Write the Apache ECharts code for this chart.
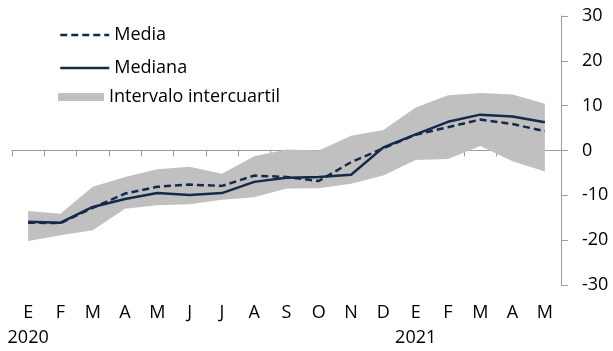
<!DOCTYPE html>
<html>
<head>
<meta charset="utf-8">
<script src="https://cdn.jsdelivr.net/npm/echarts@6/dist/echarts.min.js"></script>
<style>
  html, body { margin: 0; padding: 0; background: #ffffff; }
  #chart { width: 613px; height: 351px; }
</style>
</head>
<body>
<div id="chart"></div>
<script>
// Monthly categories, January 2020 – May 2021
const months = ['E', 'F', 'M', 'A', 'M', 'J', 'J', 'A', 'S', 'O', 'N', 'D', 'E', 'F', 'M', 'A', 'M'];
const yearLabels = { 0: '2020', 12: '2021' };

// Series values
const media   = [-16.1, -16.2, -12.8, -9.6, -8.1, -7.6, -7.9, -5.6, -5.9, -6.8, -2.6, 0.5, 3.5, 5.2, 6.9, 5.9, 4.3];
const mediana = [-15.9, -16.1, -12.6, -10.8, -9.5, -9.9, -9.5, -7.0, -6.1, -5.9, -5.4, 0.7, 3.6, 6.4, 8.0, 7.6, 6.3];
const q1      = [-20.2, -18.9, -17.8, -13.0, -12.2, -12.0, -11.0, -10.4, -8.5, -8.4, -7.4, -5.6, -2.1, -1.9, 1.0, -2.4, -4.7];
const q3      = [-13.5, -14.1, -8.1, -5.9, -4.2, -3.6, -5.2, -1.3, 0.2, 0.0, 3.3, 4.6, 9.6, 12.3, 12.8, 12.5, 10.4];

// Y axis ticks
const yMin = -30, yMax = 30, yStep = 10;

const NAVY = '#15294a';
const BAND = '#c0c0c0';
const AXIS = '#9c9c9c';
const FONT = 'Open Sans';

// Height of the interquartile band, stacked on top of the first quartile
const bandHeight = q3.map((v, i) => +(v - q1[i]).toFixed(2));

const chart = echarts.init(document.getElementById('chart'), null, { renderer: 'canvas' });

const legendText = { fontFamily: FONT, fontSize: 18, color: '#000' };
const lineLegend = {
  padding: 0, itemWidth: 49, itemHeight: 10, itemGap: 0, textStyle: legendText,
  itemStyle: { opacity: 0 },
  lineStyle: { width: 2.5 }
};

chart.setOption({
  animation: false,
  backgroundColor: '#ffffff',
  grid: { left: 12, right: 52, top: 16, bottom: 66, containLabel: false },
  legend: [
    Object.assign({ data: ['Media'], left: 59, top: 26 }, lineLegend),
    Object.assign({ data: ['Mediana'], left: 59, top: 59 }, lineLegend),
    { data: [{ name: 'Intervalo intercuartil', icon: 'rect' }], padding: 0, left: 58, top: 88, itemWidth: 46, itemHeight: 8, itemGap: 0, textStyle: legendText }
  ],
  xAxis: {
    type: 'category',
    data: months,
    boundaryGap: true,
    axisLine: { lineStyle: { color: AXIS, width: 1 } },
    axisTick: { show: true, length: 6, lineStyle: { color: AXIS } },
    axisLabel: {
      interval: 0,
      margin: 15,
      fontFamily: FONT,
      fontSize: 18,
      color: '#000',
      lineHeight: 25,
      formatter: (v, i) => yearLabels[i] ? v + '\n' + yearLabels[i] : v
    },
    splitLine: { show: false }
  },
  yAxis: {
    type: 'value',
    position: 'right',
    min: yMin,
    max: yMax,
    interval: yStep,
    axisLine: { show: true, lineStyle: { color: AXIS, width: 1 } },
    axisTick: { show: true, length: 7, inside: false, lineStyle: { color: AXIS } },
    axisLabel: { margin: 21, fontFamily: FONT, fontSize: 18, color: '#000' },
    splitLine: { show: false }
  },
  series: [
    {
      name: 'q1',
      type: 'line',
      stack: 'band',
      stackStrategy: 'all',
      data: q1,
      symbol: 'none',
      lineStyle: { opacity: 0 },
      areaStyle: { opacity: 0 },
      silent: true,
      z: 1
    },
    {
      name: 'Intervalo intercuartil',
      type: 'line',
      stack: 'band',
      stackStrategy: 'all',
      data: bandHeight,
      symbol: 'none',
      itemStyle: { color: BAND },
      lineStyle: { opacity: 0 },
      areaStyle: { color: BAND, opacity: 1 },
      silent: true,
      z: 1
    },
    {
      name: 'Media',
      type: 'line',
      data: media,
      symbol: 'none',
      itemStyle: { color: NAVY },
      lineStyle: { color: NAVY, width: 2.5, type: [7, 4] },
      z: 3
    },
    {
      name: 'Mediana',
      type: 'line',
      data: mediana,
      symbol: 'none',
      itemStyle: { color: NAVY },
      lineStyle: { color: NAVY, width: 2.5 },
      z: 4
    }
  ]
});
</script>
</body>
</html>
